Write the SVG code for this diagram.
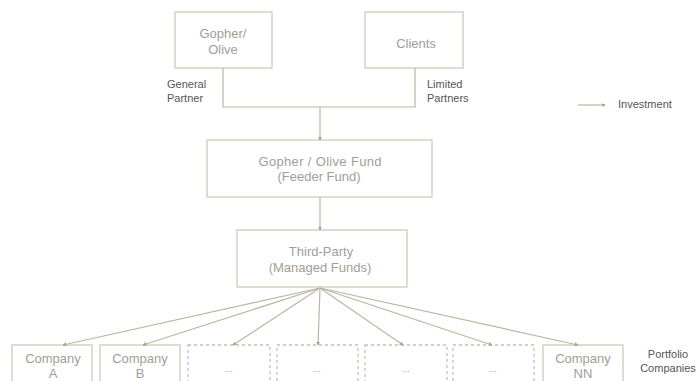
<svg xmlns="http://www.w3.org/2000/svg" width="699" height="381" viewBox="0 0 699 381">
<style>
.box{fill:#fff;stroke:#cfcabb;stroke-width:1.3}
.dbox{fill:#fff;stroke:#c4c0b4;stroke-width:1.3;stroke-dasharray:3 3}
.bt{font-family:"Liberation Sans",Arial,sans-serif;font-size:13px;fill:#a29e95;text-anchor:middle}
.lbl{font-family:"Liberation Sans",Arial,sans-serif;font-size:11px;fill:#555}
.con{fill:none;stroke:#bcb6a2;stroke-width:1.2}
</style>
<defs>
<marker id="ah" viewBox="0 0 6 6" refX="5" refY="3" markerWidth="4" markerHeight="4" orient="auto" markerUnits="userSpaceOnUse">
<path d="M0,0 L6,3 L0,6 z" fill="#a9a290"/>
</marker>
</defs>
<rect width="699" height="381" fill="#fff"/>
<g id="gopher-olive"><rect class="box" x="175" y="12" width="97" height="56"/><text class="bt" x="223" y="38">Gopher/</text><text class="bt" x="223" y="54">Olive</text></g>
<g id="clients"><rect class="box" x="365" y="12" width="98" height="56"/><text class="bt" x="416" y="48">Clients</text></g>
<g id="feeder-fund"><rect class="box" x="207" y="140" width="225" height="57"/><text class="bt" x="320" y="166" textLength="123">Gopher / Olive Fund</text><text class="bt" x="319" y="181">(Feeder Fund)</text></g>
<g id="third-party"><rect class="box" x="237" y="230" width="170" height="57"/><text class="bt" x="321" y="256">Third-Party</text><text class="bt" x="320" y="272">(Managed Funds)</text></g>
<g id="company-a"><rect class="box" x="12" y="345" width="80" height="60"/><text class="bt" x="53" y="363">Company</text><text class="bt" x="53" y="378">A</text></g>
<g id="company-b"><rect class="box" x="100" y="345" width="80" height="60"/><text class="bt" x="140" y="363">Company</text><text class="bt" x="140" y="378">B</text></g>
<g id="dots-1"><rect class="dbox" x="188" y="345" width="82" height="60"/><text class="bt" x="229" y="372" style="font-size:9px">...</text></g>
<g id="dots-2"><rect class="dbox" x="277" y="345" width="81" height="60"/><text class="bt" x="317" y="372" style="font-size:9px">...</text></g>
<g id="dots-3"><rect class="dbox" x="365" y="345" width="82" height="60"/><text class="bt" x="406" y="372" style="font-size:9px">...</text></g>
<g id="dots-4"><rect class="dbox" x="453" y="345" width="81" height="60"/><text class="bt" x="493" y="372" style="font-size:9px">...</text></g>
<g id="company-nn"><rect class="box" x="543" y="345" width="80" height="60"/><text class="bt" x="583" y="363">Company</text><text class="bt" x="583" y="378">NN</text></g>
<g id="labels">
<text class="lbl" x="167" y="88">General</text><text class="lbl" x="167" y="102">Partner</text>
<text class="lbl" x="427" y="88">Limited</text><text class="lbl" x="427" y="102">Partners</text>
<text class="lbl" x="668" y="358" text-anchor="middle">Portfolio</text><text class="lbl" x="668" y="372" text-anchor="middle">Companies</text>
</g>
<g id="legend"><line class="con" x1="578" y1="105" x2="605" y2="105" marker-end="url(#ah)"/><text class="lbl" x="618" y="108">Investment</text></g>
<g id="connectors">
<path class="con" d="M223,68 V107 H415 V68"/>
<path class="con" d="M320,107 V140" marker-end="url(#ah)"/>
<path class="con" d="M320,197 V230" marker-end="url(#ah)"/>
<path class="con" d="M320,288 L63,345" marker-end="url(#ah)"/>
<path class="con" d="M320,288 L143,345" marker-end="url(#ah)"/>
<path class="con" d="M320,288 L233,345" marker-end="url(#ah)"/>
<path class="con" d="M320,288 L318,345" marker-end="url(#ah)"/>
<path class="con" d="M320,288 L403,345" marker-end="url(#ah)"/>
<path class="con" d="M320,288 L492,345" marker-end="url(#ah)"/>
<path class="con" d="M320,288 L578,345" marker-end="url(#ah)"/>
</g>
</svg>
